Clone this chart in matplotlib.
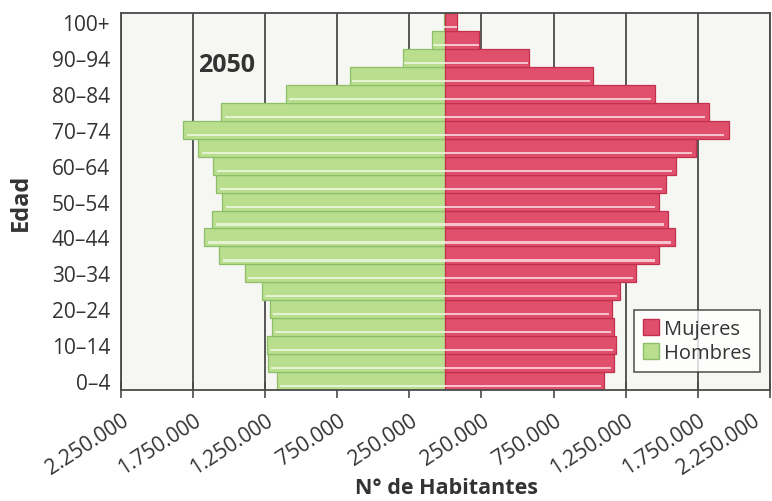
#!/usr/bin/env python3
"""
Pirámide de población 2050 (Hombres / Mujeres por grupo de edad).
"""

import numpy as np
import matplotlib
matplotlib.use("Agg")
import matplotlib.pyplot as plt
from matplotlib.patches import Patch

# Grupos de edad (de abajo hacia arriba)
grupos = ["0-4", "5-9", "10-14", "15-19", "20-24", "25-29", "30-34", "35-39",
          "40-44", "45-49", "50-54", "55-59", "60-64", "65-69", "70-74",
          "75-79", "80-84", "85-89", "90-94", "95-99", "100+"]

# Habitantes (estimados a partir de la imagen)
hombres = [1167000, 1229000, 1236000, 1201000, 1215000, 1271000, 1389000,
           1569000, 1674000, 1618000, 1549000, 1590000, 1611000, 1715000,
           1819000, 1556000, 1104000, 660000, 292000, 90000, 8000]
mujeres = [1097000, 1167000, 1181000, 1167000, 1153000, 1208000, 1319000,
           1479000, 1590000, 1542000, 1479000, 1528000, 1597000, 1736000,
           1965000, 1826000, 1451000, 1021000, 583000, 236000, 83000]

# Ticks del eje X y sus etiquetas (valores absolutos)
xticks = [-2250000, -1750000, -1250000, -750000, -250000,
          250000, 750000, 1250000, 1750000, 2250000]
xlabels = ["2.250.000", "1.750.000", "1.250.000", "750.000", "250.000",
           "250.000", "750.000", "1.250.000", "1.750.000", "2.250.000"]

FONT = ["Open Sans", "DejaVu Sans"]
TXT = "#333333"
VERDE = "#b8de8e"
VERDE_BORDE = "#8cbf68"
ROJO = "#e0506d"
ROJO_BORDE = "#c3304d"

ROT = 33
TICK_FS = 15
TICK_LEN = 12
TICK_PAD = 8


def main(output_path="out.png"):
    plt.rcParams["font.family"] = FONT

    fig = plt.figure(figsize=(7.72, 5.02), dpi=100)
    ax = fig.add_axes([0.157, 0.221, 0.840, 0.751])
    ax.set_facecolor("#f6f6f3")

    y = np.arange(len(grupos))
    h = -np.array(hombres)
    m = np.array(mujeres)

    # Líneas verticales de la cuadrícula (detrás de las barras)
    for xt in xticks:
        ax.axvline(xt, color="#4a4a4a", lw=1.3, zorder=1)

    ax.barh(y, h, height=1.0, color=VERDE, edgecolor=VERDE_BORDE,
            linewidth=0.9, zorder=2)
    ax.barh(y, m, height=1.0, color=ROJO, edgecolor=ROJO_BORDE,
            linewidth=0.9, zorder=2)
    # Brillo claro en la parte inferior de cada barra
    ax.barh(y - 0.28, h * 0.985, height=0.12, color="#e4f4d2",
            linewidth=0, zorder=3)
    ax.barh(y - 0.28, m * 0.985, height=0.12, color="#f6c3cd",
            linewidth=0, zorder=3)

    ax.set_xlim(-2250000, 2250000)
    ax.set_ylim(-0.5, len(grupos) - 0.5)

    # el último rótulo se dibuja aparte, algo desplazado, para que no se corte
    ax.set_xticks(xticks)
    ax.set_xticklabels(xlabels[:-1] + [""], rotation=ROT, ha="right",
                       va="top", rotation_mode="anchor", fontsize=TICK_FS,
                       color=TXT)
    ax.annotate(xlabels[-1], xy=(xticks[-1], 0),
                xycoords=ax.get_xaxis_transform(),
                xytext=(-13, -(TICK_LEN / 2 + TICK_PAD)),
                textcoords="offset points", rotation=ROT, ha="right",
                va="top", rotation_mode="anchor", fontsize=TICK_FS,
                color=TXT, annotation_clip=False)

    ax.set_yticks(y[::2])
    ax.set_yticklabels([g.replace("-", "\u2013") for g in grupos[::2]],
                       fontsize=15, color=TXT)
    ax.tick_params(axis="x", direction="inout", length=TICK_LEN, width=1.2,
                   colors="#4a4a4a", labelcolor=TXT, pad=TICK_PAD)
    ax.tick_params(axis="y", length=0, pad=8)

    for s in ax.spines.values():
        s.set_color("#4a4a4a")
        s.set_linewidth(1.3)

    ax.set_ylabel("Edad", fontsize=17, fontweight="bold", color=TXT)
    ax.yaxis.set_label_coords(-0.136, 0.5)
    fig.text(0.578, 0.027, "N° de Habitantes", fontsize=15.5,
             fontweight="bold", color=TXT, ha="center", va="center")

    ax.text(-1750000 + 30000, 17.65, "2050", fontsize=18,
            fontweight="bold", color=TXT, va="center", ha="left", zorder=4)

    handles = [Patch(facecolor=ROJO, edgecolor=ROJO_BORDE, label="Mujeres"),
               Patch(facecolor=VERDE, edgecolor=VERDE_BORDE, label="Hombres")]
    leg = ax.legend(handles=handles, loc="lower right",
                    bbox_to_anchor=(0.985, 0.048), fontsize=14.5,
                    frameon=True, fancybox=False, handlelength=0.8,
                    handleheight=0.8, handletextpad=0.25, borderpad=0.45,
                    labelspacing=0.2, borderaxespad=0)
    leg.get_frame().set_edgecolor("#333333")
    leg.get_frame().set_linewidth(1.2)
    leg.set_zorder(5)
    for t in leg.get_texts():
        t.set_color(TXT)

    fig.savefig(output_path, dpi=100, facecolor="white")
    plt.close(fig)
    return output_path


if __name__ == "__main__":
    main("out.png")
